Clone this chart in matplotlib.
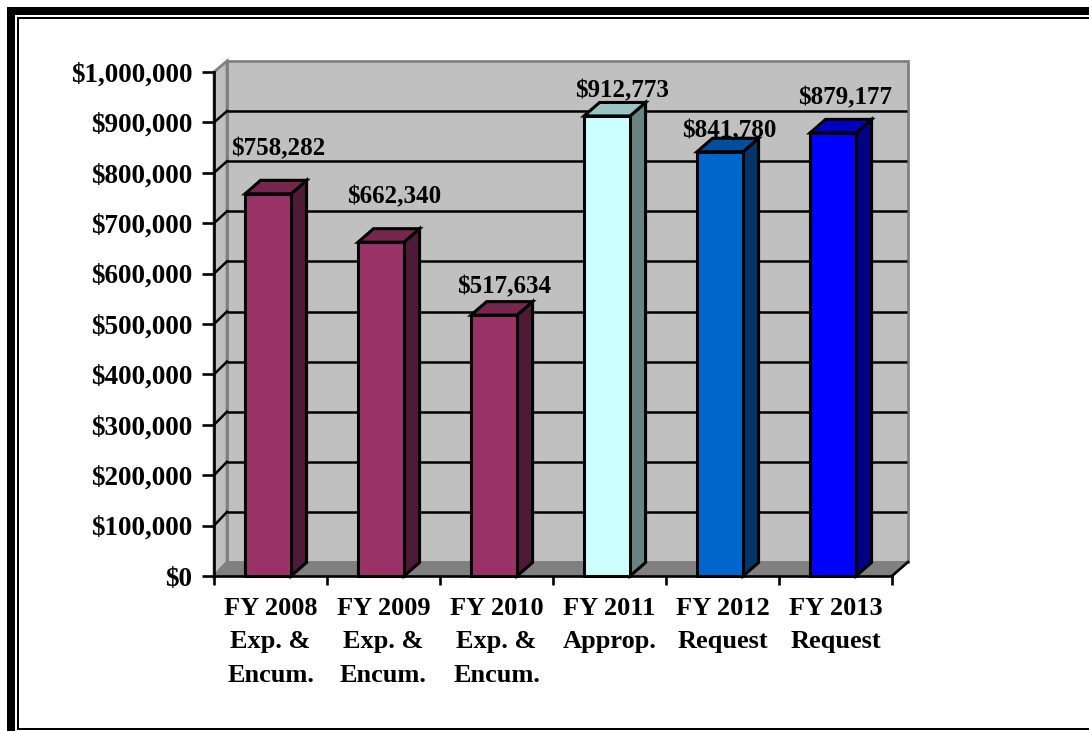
import matplotlib
matplotlib.use('Agg')
import matplotlib.pyplot as plt
from matplotlib.patches import Polygon, Rectangle

# values
categories = ['FY 2008\nExp. &\nEncum.', 'FY 2009\nExp. &\nEncum.', 'FY 2010\nExp. &\nEncum.',
              'FY 2011\nApprop.', 'FY 2012\nRequest', 'FY 2013\nRequest']
values = [758282, 662340, 517634, 912773, 841780, 879177]
value_labels = ['$758,282', '$662,340', '$517,634', '$912,773', '$841,780', '$879,177']
y_ticks = [0, 100000, 200000, 300000, 400000, 500000, 600000, 700000, 800000, 900000, 1000000]

front_colors = ['#993366', '#993366', '#993366', '#CCFFFF', '#0066CC', '#0000FF']
top_colors = ['#75274E', '#75274E', '#75274E', '#9CC3C3', '#004E9C', '#0000C3']
side_colors = ['#4F1A35', '#4F1A35', '#4F1A35', '#698383', '#003569', '#000083']

# label centre, in pixels above/right of the bar's front top centre
label_dx = [10, 13, 10, 15, 9, 12]
label_dy = [45, 45, 28, 25, 21, 35]

W, H = 1089, 731
plt.rcParams['font.family'] = ['Liberation Serif', 'DejaVu Serif']
plt.rcParams['font.weight'] = 'bold'
plt.rcParams['font.size'] = 18

fig = plt.figure(figsize=(W / 100, H / 100), dpi=100)

# outer frame, open on the right, figure coordinates in pixels
def frame_bar(x0, y0, x1, y1):
    fig.add_artist(Rectangle((x0 / W, 1 - y1 / H), (x1 - x0) / W, (y1 - y0) / H, transform=fig.transFigure,
                             facecolor='black', edgecolor='none', clip_on=False))

frame_bar(7, 7, W, 15)
frame_bar(7, 7, 15, H)
frame_bar(17, 17, W, 19)
frame_bar(17, 17, 19, 730)
frame_bar(17, 728, W, 730)

# the axes is the front plane of the chart box
left, right, bottom, top = 214, 892, 576, 72
ax = fig.add_axes([left / W, 1 - bottom / H, (right - left) / W, (bottom - top) / H])
ax.set_xlim(0, 6)
ax.set_ylim(0, 1000000)
ax.patch.set_visible(False)

px_x = 6 / (right - left)
px_y = 1000000 / (bottom - top)
dx_l = 13 * px_x
dx_r = 16 * px_x
dy = 14 * px_y
wall_top = 1000000 + 11 * px_y

# walls and floor
grey_line = '#808080'
ax.add_patch(Polygon([(dx_l, dy), (6 + dx_r, dy), (6 + dx_r, wall_top), (dx_l, wall_top)],
                     facecolor='#C0C0C0', edgecolor=grey_line, linewidth=2, clip_on=False, zorder=1))
ax.add_patch(Polygon([(0, 0), (dx_l, dy), (dx_l, wall_top), (0, 1000000)],
                     facecolor='#C0C0C0', edgecolor=grey_line, linewidth=2, clip_on=False, zorder=1))
ax.add_patch(Polygon([(0, 0), (6, 0), (6 + dx_r, dy), (dx_l, dy)],
                     facecolor='#808080', edgecolor=grey_line, linewidth=1, clip_on=False, zorder=1))

# gridlines on back wall and their slanted part on the side wall
for v in y_ticks[1:-1]:
    back = dy + v * (wall_top - dy) / 1000000
    ax.plot([dx_l, 6 + dx_r * 0.95], [back, back], color='black', linewidth=1.8, clip_on=False, zorder=2,
            solid_capstyle='butt')
    ax.plot([0, dx_l], [v, back], color='black', linewidth=1.8, clip_on=False, zorder=2)

# bars
bar_w = 46 * px_x
bar_dx = 15.5 * px_x
bar_dy = 13.5 * px_y
for i, v in enumerate(values):
    x0 = i + 0.275
    x1 = x0 + bar_w
    ax.add_patch(Polygon([(x1, 0), (x1 + bar_dx, bar_dy), (x1 + bar_dx, v + bar_dy), (x1, v)],
                         facecolor=side_colors[i], edgecolor='black', linewidth=2.2, clip_on=False, zorder=3))
    ax.add_patch(Polygon([(x0, v), (x1, v), (x1 + bar_dx, v + bar_dy), (x0 + bar_dx, v + bar_dy)],
                         facecolor=top_colors[i], edgecolor='black', linewidth=2.2, clip_on=False, zorder=3))
    ax.add_patch(Rectangle((x0, 0), bar_w, v, facecolor=front_colors[i], edgecolor='black', linewidth=2.2,
                           clip_on=False, zorder=4))
    ax.annotate(value_labels[i], xy=((x0 + x1) / 2, v), xytext=(label_dx[i] * 0.72, label_dy[i] * 0.72),
                textcoords='offset points', ha='center', va='center', annotation_clip=False, zorder=5)

# axis lines and ticks
for s in ['top', 'right']:
    ax.spines[s].set_visible(False)
for s in ['left', 'bottom']:
    ax.spines[s].set_linewidth(1.9)
    ax.spines[s].set_zorder(6)

ax.set_yticks(y_ticks)
ax.set_yticklabels(['${:,}'.format(t) for t in y_ticks], fontsize=19.5)
ax.set_xticks(range(7))
ax.set_xticklabels([])
ax.set_xticks([i + 0.5 for i in range(6)], minor=True)
ax.set_xticklabels(categories, minor=True, linespacing=1.58, va='top', fontsize=19)
ax.tick_params(axis='y', which='major', length=8.5, width=1.9, color='black', pad=7)
ax.tick_params(axis='x', which='major', length=6.5, width=1.9, color='black')
ax.tick_params(axis='x', which='minor', length=0, pad=15)

# slanted stub at the front right corner of the floor
ax.plot([6, 6 + dx_r], [0, dy], color='black', linewidth=1.9, clip_on=False, zorder=6)

fig.savefig('out.png', dpi=100, facecolor='white')
